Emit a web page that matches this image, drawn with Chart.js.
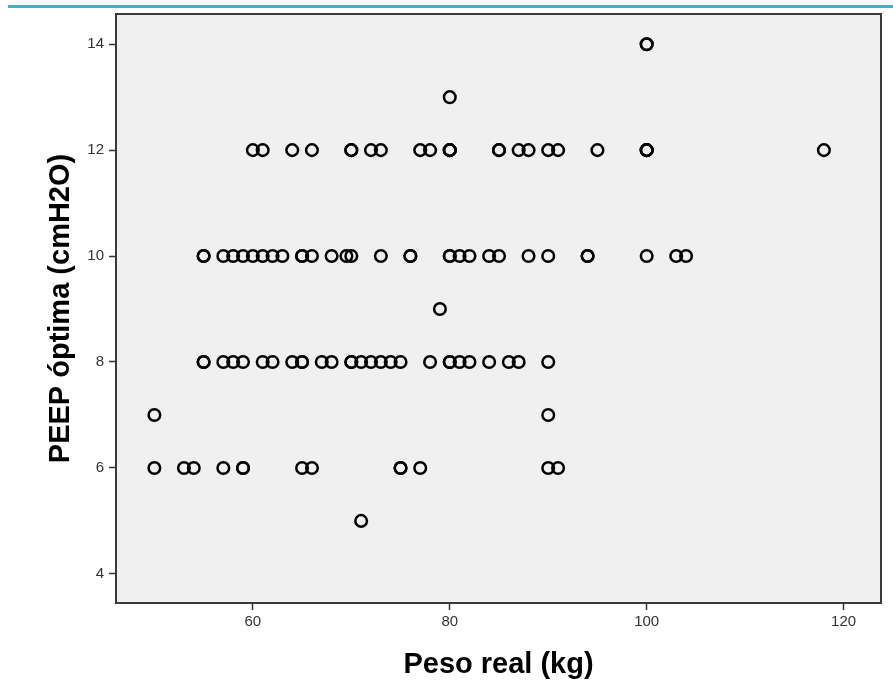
<!DOCTYPE html>
<html>
<head>
<meta charset="utf-8">
<script src="https://cdn.jsdelivr.net/npm/chart.js@4"></script>
<style>
  html, body { margin: 0; padding: 0; background: #fff; }
  #wrap { position: relative; width: 893px; height: 688px; }
</style>
</head>
<body>
<div id="wrap"><canvas id="chart" width="893" height="688"></canvas></div>
<script>
// Peso real (kg) of each patient, grouped by the PEEP óptima value
const peso14 = [100, 100];
const peso13 = [80];
const peso12 = [60, 61, 64, 66, 70, 70, 72, 73, 77, 78, 80, 80, 80, 85, 85, 87, 88, 90, 91, 95, 100, 100, 100, 118];
const peso10 = [55, 55, 57, 58, 59, 60, 61, 62, 63, 65, 65, 66, 68, 69.5, 70, 73, 76, 76, 80, 80, 81, 82, 84, 85, 88, 90, 94, 94, 100, 103, 104];
const peso9 = [79];
const peso8 = [55, 55, 57, 58, 59, 61, 62, 64, 65, 65, 67, 68, 70, 70, 71, 72, 73, 74, 75, 78, 80, 80, 81, 82, 84, 86, 87, 90];
const peso7 = [50, 90];
const peso6 = [50, 53, 54, 57, 59, 59, 65, 66, 75, 75, 77, 90, 91];
const peso5 = [71];

const peepLevels = [14, 13, 12, 10, 9, 8, 7, 6, 5];
const pesoGroups = [peso14, peso13, peso12, peso10, peso9, peso8, peso7, peso6, peso5];

const xTicks = [60, 80, 100, 120];
const yTicks = [4, 6, 8, 10, 12, 14];

const points = [];
pesoGroups.forEach((group, i) => {
    group.forEach(p => points.push({ x: p, y: peepLevels[i] }));
});

// background, top blue rule and the plot frame
const framePlugin = {
    id: 'frame',
    beforeDraw(chart) {
        const { ctx, chartArea: a } = chart;
        ctx.save();
        ctx.fillStyle = '#ffffff';
        ctx.fillRect(0, 0, chart.width, chart.height);
        ctx.fillStyle = '#4aa9c7';
        ctx.fillRect(8, 5, chart.width - 8, 3);
        ctx.fillStyle = '#f0f0f0';
        ctx.fillRect(a.left, a.top, a.right - a.left, a.bottom - a.top);
        ctx.restore();
    },
    afterDraw(chart) {
        const { ctx, chartArea: a } = chart;
        ctx.save();
        ctx.strokeStyle = '#3a3a3a';
        ctx.lineWidth = 2;
        ctx.strokeRect(a.left, a.top, a.right - a.left, a.bottom - a.top);
        ctx.restore();
    }
};

const tickFont = { family: 'Liberation Sans', size: 15 };
const titleFont = { family: 'Liberation Sans', size: 29, weight: 'bold' };

new Chart(document.getElementById('chart'), {
    type: 'scatter',
    data: {
        datasets: [{
            data: points,
            pointStyle: 'circle',
            pointRadius: 5.8,
            pointBorderWidth: 2.5,
            borderColor: '#000000',
            backgroundColor: 'rgba(0,0,0,0)'
        }]
    },
    options: {
        responsive: false,
        animation: false,
        layout: { padding: { top: 14, right: 12, left: 0, bottom: 0 } },
        plugins: { legend: { display: false }, tooltip: { enabled: false } },
        scales: {
            x: {
                type: 'linear',
                min: 46.1,
                max: 123.8,
                afterBuildTicks: scale => { scale.ticks = xTicks.map(v => ({ value: v })); },
                afterFit: scale => { scale.height = 85; },
                border: { display: false },
                grid: { drawOnChartArea: false, drawTicks: true, tickLength: 7, tickWidth: 1.5, tickColor: '#333' },
                ticks: { font: tickFont, color: '#333', padding: 3, maxRotation: 0 },
                title: { display: true, text: 'Peso real (kg)', font: titleFont, color: '#000', padding: { top: 0, bottom: 6 } }
            },
            y: {
                type: 'linear',
                min: 3.45,
                max: 14.57,
                afterBuildTicks: scale => { scale.ticks = yTicks.map(v => ({ value: v })); },
                afterFit: scale => { scale.width = 116; },
                border: { display: false },
                grid: { drawOnChartArea: false, drawTicks: true, tickLength: 7, tickWidth: 1.5, tickColor: '#333' },
                ticks: { font: tickFont, color: '#333', padding: 5 },
                title: { display: true, text: 'PEEP óptima (cmH2O)', font: titleFont, color: '#000', padding: { top: 44, bottom: 0 } }
            }
        }
    },
    plugins: [framePlugin]
});
</script>
</body>
</html>
